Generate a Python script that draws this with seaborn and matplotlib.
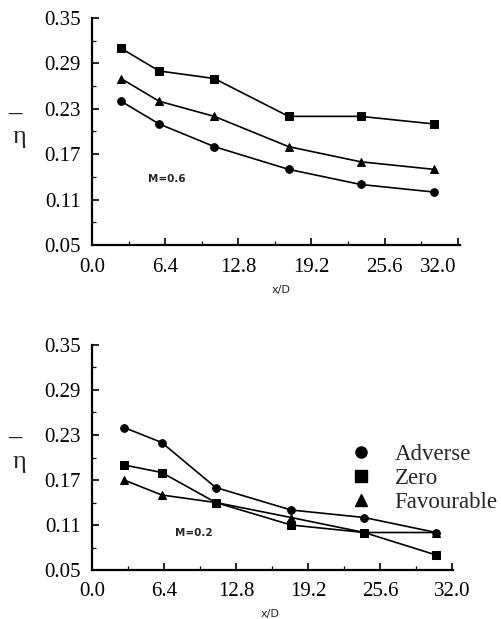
import matplotlib
matplotlib.use("Agg")
import matplotlib.pyplot as plt
import matplotlib.transforms as mtransforms
from matplotlib.lines import Line2D
import seaborn as sns
import pandas as pd
import numpy as np

sns.set_theme(style="ticks")
plt.rcParams['font.family'] = ['Liberation Serif', 'DejaVu Serif']

series = ["Adverse", "Zero", "Favourable"]
markers = {"Adverse": "o", "Zero": "s", "Favourable": "^"}

# M = 0.6 panel
x_top = [2.54, 5.87, 10.7, 17.2, 23.5, 29.9]
top_adverse = [0.24, 0.21, 0.18, 0.15, 0.13, 0.12]
top_zero = [0.31, 0.28, 0.27, 0.22, 0.22, 0.21]
top_favourable = [0.27, 0.24, 0.22, 0.18, 0.16, 0.15]

# M = 0.2 panel
x_bot = [2.85, 6.2, 11.0, 17.7, 24.2, 30.6]
bot_adverse = [0.24, 0.22, 0.16, 0.13, 0.12, 0.10]
bot_zero = [0.19, 0.18, 0.14, 0.11, 0.10, 0.07]
bot_favourable = [0.17, 0.15, 0.14, 0.12, 0.10, 0.10]

xticks = [0.0, 6.4, 12.8, 19.2, 25.6, 32.0]
xticklabels = ["0.0", "6.4", "12.8", "19.2", "25.6", "32.0"]
yticks = [0.05, 0.11, 0.17, 0.23, 0.29, 0.35]
yticklabels = ["0.05", "0.11", "0.17", "0.23", "0.29", "0.35"]


def make_df(x, a, z, f):
    rows = []
    for name, vals in zip(series, [a, z, f]):
        for xi, yi in zip(x, vals):
            rows.append({"x": xi, "eta": yi, "case": name})
    return pd.DataFrame(rows)


df_top = make_df(x_top, top_adverse, top_zero, top_favourable)
df_bot = make_df(x_bot, bot_adverse, bot_zero, bot_favourable)

W, H = 501, 619
fig = plt.figure(figsize=(W / 100, H / 100), dpi=100)
fig.patch.set_facecolor("white")


def px_axes(l, t, r, b):
    return fig.add_axes([l / W, 1 - b / H, (r - l) / W, (b - t) / H])


ax1 = px_axes(92, 18, 460, 245)
ax2 = px_axes(92, 345, 453, 570)

palette = {s: "black" for s in series}

for ax, df, xmax in [(ax1, df_top, 32.2), (ax2, df_bot, 32.1)]:
    sns.lineplot(data=df, x="x", y="eta", hue="case", style="case",
                 markers=markers, dashes=False, palette=palette,
                 markersize=5.5, linewidth=1.2, markeredgecolor="black",
                 legend=False, ax=ax)
    ax.set_xlim(0, xmax)
    ax.set_ylim(0.05, 0.35)
    ax.set_facecolor("white")
    for s in ["top", "right"]:
        ax.spines[s].set_visible(False)
    for s in ["left", "bottom"]:
        ax.spines[s].set_color("black")
        ax.spines[s].set_linewidth(1.6)
    ax.set_xticks(xticks)
    ax.set_xticklabels(xticklabels)
    ax.set_yticks(yticks)
    ax.set_yticklabels(yticklabels)
    ax.set_xticks(np.arange(3.2, 32, 6.4), minor=True)
    ax.set_yticks(np.arange(0.08, 0.35, 0.06), minor=True)
    ax.tick_params(axis="both", which="major", direction="in", length=5,
                   width=1.2, color="black", labelsize=15, labelcolor="black")
    ax.tick_params(axis="both", which="minor", direction="in", length=3,
                   width=0.9, color="black")
    ax.tick_params(axis="x", which="major", pad=9)
    ax.tick_params(axis="y", which="major", pad=8)
    ax.set_xlabel("")
    ax.set_ylabel("")

# shift the top panel's last x tick label left, as in the reference
lab = ax1.get_xticklabels()[-1]
lab.set_transform(lab.get_transform() +
                  mtransforms.ScaledTranslation(-0.20, 0, fig.dpi_scale_trans))

# panel annotations
fig.text(148 / W, 1 - 179 / H, "M=0.6", family="DejaVu Sans", fontsize=7.5,
         fontweight="bold", va="center", ha="left")
fig.text(175 / W, 1 - 533 / H, "M=0.2", family="DejaVu Sans", fontsize=7.5,
         fontweight="bold", va="center", ha="left")

fig.text(281 / W, 1 - 290 / H, "x/D", family="DejaVu Sans", fontsize=8,
         va="center", ha="center")
fig.text(270 / W, 1 - 614 / H, "x/D", family="DejaVu Sans", fontsize=8,
         va="center", ha="center")

# y labels: eta with bar above
for bar_y, eta_y in [(113, 137), (437, 462)]:
    fig.text(15 / W, 1 - bar_y / H, "\u2014", fontsize=11, va="center",
             ha="center", family="DejaVu Sans")
    fig.text(19 / W, 1 - eta_y / H, "\u03b7", fontsize=19, va="center",
             ha="center")

# legend
handles = [Line2D([], [], marker=markers[s], color="black", linestyle="none",
                  markersize=8) for s in series]
fig.legend(handles, series, loc="upper left",
           bbox_to_anchor=(351 / W, 1 - 444 / H), frameon=False,
           fontsize=16.5, handlelength=0.9, handletextpad=1.0,
           labelspacing=0.12, borderpad=0, borderaxespad=0)

fig.savefig("out.png", dpi=100, facecolor="white")
